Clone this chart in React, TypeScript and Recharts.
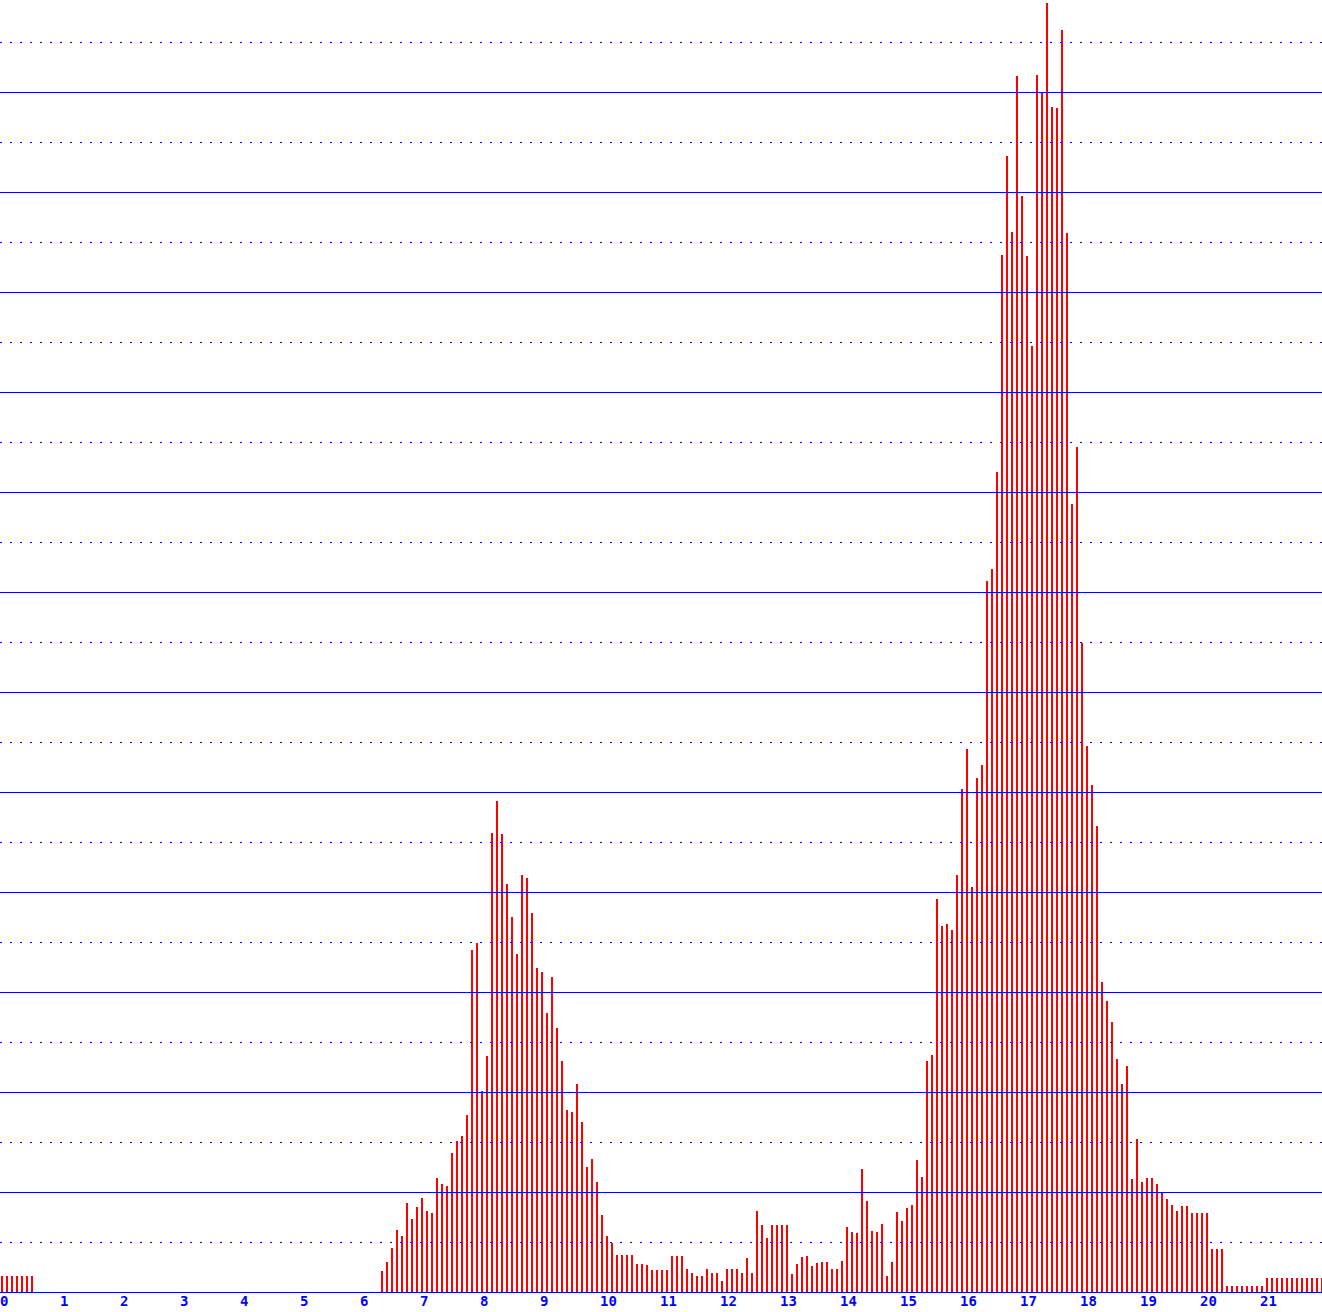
import { Bar, BarChart, ReferenceLine, XAxis, YAxis } from "recharts";

// one bin = 1/12 of an axis unit
const leadInBins = [1.7, 1.7, 1.7, 1.7, 1.7, 1.7, 1.7];

const emptyBins = [
  0, 0, 0, 0, 0, 0, 0, 0, 0, 0,
  0, 0, 0, 0, 0, 0, 0, 0, 0, 0,
  0, 0, 0, 0, 0, 0, 0, 0, 0, 0,
  0, 0, 0, 0, 0, 0, 0, 0, 0, 0,
  0, 0, 0, 0, 0, 0, 0, 0, 0, 0,
  0, 0, 0, 0, 0, 0, 0, 0, 0, 0,
  0, 0, 0, 0, 0, 0, 0, 0, 0,
];

const firstPeakBins = [
  2.2, 3.1, 4.5, 6.3, 5.7, 9.0, 7.4, 8.6, 9.5, 8.2,
  8.0, 11.5, 10.9, 10.7, 14.0, 15.2, 15.7, 17.8, 34.3, 35.0,
  20.2, 23.7, 46.0, 49.2, 45.9, 40.9, 37.6, 33.9, 41.8, 41.5,
  38.0, 32.5, 32.1, 28.0, 31.6, 26.5, 23.2, 18.3, 18.1, 20.9,
  17.1, 12.6, 13.4, 11.1, 7.8, 5.7, 5.0, 3.8, 3.8, 3.8,
  3.8, 2.9,
];

const valleyBins = [
  2.9, 2.8, 2.3, 2.3, 2.3, 2.3, 3.7, 3.7, 3.7, 2.4,
  2.0, 1.7, 1.7, 2.4, 2.0, 2.0, 1.2, 2.4, 2.4, 2.4,
  2.0, 3.5, 2.0, 8.2, 6.8, 5.5, 6.8, 6.8, 6.8, 6.8,
  1.9, 2.9, 3.6, 3.7, 2.7, 3.0, 3.1, 3.1, 2.4, 2.4,
  3.2, 6.6, 6.1, 6.0, 12.4, 9.2, 6.2, 6.1, 6.9, 1.7,
  3.1, 8.1, 7.2, 8.5, 8.8, 13.3, 11.6,
];

const secondPeakBins = [
  23.2, 23.8, 39.4, 36.7, 36.9, 36.3, 41.8, 50.4, 54.4, 40.6,
  51.5, 52.8, 71.2, 72.4, 82.1, 103.8, 113.7, 106.1, 121.7, 109.7,
  103.7, 94.7, 121.8, 120.1, 129.0, 118.6, 118.5, 126.3, 106.0, 78.9,
  84.6, 65.0, 54.7, 50.8, 46.7, 31.1, 29.2, 27.1, 23.4, 20.9,
  22.7,
];

const tailBins = [
  11.4, 15.4, 11.1, 11.5, 11.5, 10.9, 10.0, 9.4, 8.8, 8.2,
  8.7, 8.7, 8.0, 8.0, 8.0, 8.0, 4.4, 4.4, 4.4, 0.7,
  0.7, 0.7, 0.7, 0.7, 0.7, 0.7, 0.7, 1.5, 1.5, 1.5,
  1.5, 1.5, 1.5, 1.5, 1.5, 1.5, 1.5, 1.5, 1.5,
];

const tickLabels = [
  "0", "1", "2", "3", "4", "5", "6", "7", "8", "9", "10",
  "11", "12", "13", "14", "15", "16", "17", "18", "19", "20", "21",
];

const solidLevels = [10, 20, 30, 40, 50, 60, 70, 80, 90, 100, 110, 120];
const dottedLevels = [5, 15, 25, 35, 45, 55, 65, 75, 85, 95, 105, 115, 125];

const BINS_PER_UNIT = 12;
const BLUE = "#0000ff";

const binValues = [
  ...leadInBins,
  ...emptyBins,
  ...firstPeakBins,
  ...valleyBins,
  ...secondPeakBins,
  ...tailBins,
];

const data = binValues.map((value, bin) => ({ bin, value }));
const ticks = tickLabels.map((_, k) => k * BINS_PER_UNIT);

const AxisTick = (props: any) => {
  const { x, y, payload } = props;
  return (
    <text
      x={x - 1.5}
      y={y + 13}
      textAnchor="start"
      fill={BLUE}
      fontFamily="'DejaVu Sans Mono', monospace"
      fontWeight="bold"
      fontSize={14}
    >
      {tickLabels[payload.value / BINS_PER_UNIT]}
    </text>
  );
};

export default function App() {
  return (
    <div style={{ position: "absolute", left: 0, top: 0, background: "#fff" }}>
      <BarChart
        width={1322}
        height={1312}
        data={data}
        margin={{ top: 0.5, right: -2, bottom: 0, left: -1 }}
      >
        <YAxis hide domain={[0, 129.2]} />
        {dottedLevels.map((v) => (
          <ReferenceLine
            key={`d${v}`}
            y={v}
            stroke={BLUE}
            strokeDasharray="2 8"
            strokeDashoffset={-1}
            shapeRendering="crispEdges"
          />
        ))}
        {solidLevels.map((v) => (
          <ReferenceLine
            key={`s${v}`}
            y={v}
            stroke={BLUE}
            shapeRendering="crispEdges"
          />
        ))}
        <Bar
          dataKey="value"
          fill="#ff0000"
          barSize={2}
          isAnimationActive={false}
          shapeRendering="crispEdges"
        />
        <XAxis
          dataKey="bin"
          ticks={ticks}
          interval={0}
          height={19.5}
          axisLine={{ stroke: BLUE, shapeRendering: "crispEdges" }}
          tickLine={false}
          tickSize={0}
          tickMargin={0}
          tick={<AxisTick />}
        />
      </BarChart>
    </div>
  );
}
